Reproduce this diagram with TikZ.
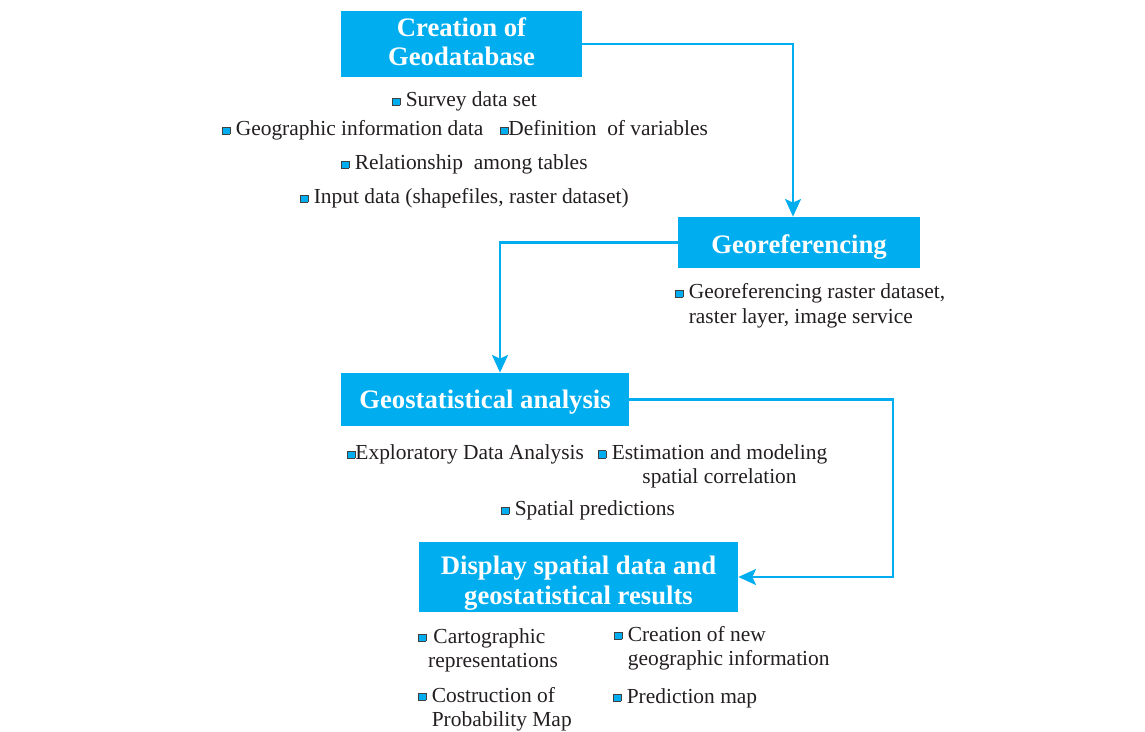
\documentclass[tikz,border=0pt]{standalone}
\usepackage{fontspec}
\setmainfont{Liberation Serif}
\usetikzlibrary{arrows.meta}

\definecolor{geoblue}{HTML}{00AEEF}
\definecolor{geotext}{HTML}{231F20}
\setlength{\fboxsep}{0pt}
\setlength{\fboxrule}{0.5pt}
\newcommand{\bul}{\raisebox{0.2ex}{\fcolorbox{black!75}{geoblue}{\rule{0pt}{3.6pt}\rule{3.6pt}{0pt}}}}
% two-line item text, first line on the node's baseline
\newcommand{\twolines}[2][l]{\begin{tabular}[t]{@{}#1@{}}#2\end{tabular}}

\tikzset{
    stagebox/.style={fill=geoblue, text=white, inner sep=0pt, align=center,
        text depth=0pt, font=\fontsize{15.2}{16.6}\selectfont\bfseries},
    item/.style={anchor=base west, inner sep=0pt, text=geotext,
        font=\fontsize{12.2}{13.8}\selectfont},
    flow/.style={draw=geoblue, line width=1.6pt,
        -{Stealth[length=10pt, width=9pt, inset=2pt]}},
}

\begin{document}
\begin{tikzpicture}[x=0.02cm, y=-0.02cm]
    \useasboundingbox (0, 0) rectangle (1145, 732);

    % Draw stages
    \node [stagebox, minimum width=4.82cm, minimum height=1.32cm, text height=24.9pt]
        (gdb) at (461.5, 44) {Creation of\\Geodatabase};
    \node [stagebox, minimum width=4.84cm, minimum height=1.02cm, text height=12.7pt]
        (geo) at (799, 242.5) {Georeferencing};
    \node [stagebox, minimum width=5.76cm, minimum height=1.06cm]
        (ana) at (485, 399.5) {Geostatistical analysis};
    \node [stagebox, minimum width=6.38cm, minimum height=1.40cm, text height=31.7pt,
        font=\fontsize{15.2}{17}\selectfont\bfseries]
        (res) at (578.5, 577) {Display spatial data and\\geostatistical results};

    % Items of each stage
    \node [item] (survey) at (392, 107) {\bul\ Survey data set};
    \node [item] (ginfo) at (222, 136) {\bul\ Geographic information data};
    \node [item] (vars) at (500, 136) {\bul Definition\ \ of variables};
    \node [item] (rel) at (341, 170) {\bul\ Relationship\ \ among tables};
    \node [item] (input) at (300, 204) {\bul\ Input data (shapefiles, raster dataset)};

    \node [item] (raster) at (675, 299)
        {\bul\ \twolines{Georeferencing raster dataset,\\raster layer, image service}};

    \node [item] (eda) at (347, 460) {\bul Exploratory Data Analysis};
    \node [item] (model) at (598, 459.5)
        {\bul\ \twolines[c]{Estimation and modeling\\spatial correlation}};
    \node [item] (pred) at (501, 516) {\bul\ Spatial predictions};

    \node [item] (carto) at (418, 643)
        {\bul\hspace{1pt}\twolines{\hspace{3pt}Cartographic\\representations}};
    \node [item] (newinfo) at (614, 641)
        {\bul\ \twolines{Creation of new\\geographic information}};
    \node [item] (prob) at (418, 702)
        {\bul\ \twolines{Costruction of\\Probability Map}};
    \node [item] (pmap) at (613, 703) {\bul\ Prediction map};

    % Draw flow
    \coordinate (turn) at (893, 577);
    \draw [flow] (gdb.east) -| ([xshift=-0.12cm]geo.north);
    \draw [flow] (geo.west) -| ([xshift=0.30cm]ana.north);
    \draw [flow] (ana.east) -| (turn) -- (res.east);
\end{tikzpicture}
\end{document}
